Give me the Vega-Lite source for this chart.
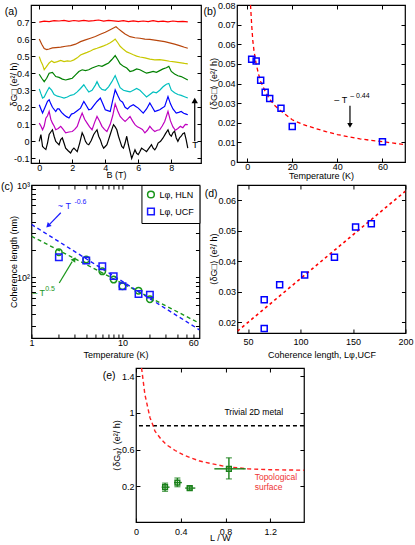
{
"$schema": "https://vega.github.io/schema/vega-lite/v6.json",
"padding": {"left": 0, "top": 0, "right": 0, "bottom": 0},
"spacing": -1,
"resolve": {"scale": {"color": "independent", "shape": "independent"}},
"vconcat": [
{"hconcat": [
{
"width": 170, "height": 158,
"layer": [
{"data": {"values": [
{"s":"k","B":0,"v":0},{"s":"k","B":0.1,"v":0.04},{"s":"k","B":0.2,"v":-0.03},{"s":"k","B":0.3,"v":-0.04},{"s":"k","B":0.4,"v":-0.048},{"s":"k","B":0.5,"v":-0.01},{"s":"k","B":0.6,"v":0.04},{"s":"k","B":0.7,"v":0.055},{"s":"k","B":0.8,"v":0.068},{"s":"k","B":0.9,"v":0.03},{"s":"k","B":1,"v":0},{"s":"k","B":1.1,"v":-0.01},{"s":"k","B":1.2,"v":-0.02},{"s":"k","B":1.3,"v":0.01},{"s":"k","B":1.4,"v":0.02},{"s":"k","B":1.5,"v":-0.01},{"s":"k","B":1.6,"v":-0.04},{"s":"k","B":1.75,"v":-0.055},{"s":"k","B":1.9,"v":-0.068},{"s":"k","B":2,"v":-0.05},{"s":"k","B":2.1,"v":-0.04},{"s":"k","B":2.2,"v":-0.05},{"s":"k","B":2.3,"v":-0.06},{"s":"k","B":2.45,"v":-0.01},{"s":"k","B":2.6,"v":0.05},{"s":"k","B":2.7,"v":0.03},{"s":"k","B":2.8,"v":0},{"s":"k","B":2.9,"v":-0.015},{"s":"k","B":3,"v":-0.02},{"s":"k","B":3.15,"v":0.005},{"s":"k","B":3.3,"v":0.04},{"s":"k","B":3.4,"v":0.055},{"s":"k","B":3.5,"v":0.068},{"s":"k","B":3.6,"v":0.03},{"s":"k","B":3.7,"v":0.01},{"s":"k","B":3.8,"v":-0.02},{"s":"k","B":3.9,"v":-0.04},{"s":"k","B":4,"v":-0.03},{"s":"k","B":4.1,"v":-0.02},{"s":"k","B":4.2,"v":0.01},{"s":"k","B":4.3,"v":0.04},{"s":"k","B":4.4,"v":0.07},{"s":"k","B":4.5,"v":0.098},{"s":"k","B":4.6,"v":0.085},{"s":"k","B":4.7,"v":0.068},{"s":"k","B":4.8,"v":0.03},{"s":"k","B":4.9,"v":0},{"s":"k","B":5,"v":-0.03},{"s":"k","B":5.1,"v":-0.04},{"s":"k","B":5.2,"v":-0.01},{"s":"k","B":5.3,"v":0.03},{"s":"k","B":5.4,"v":-0.02},{"s":"k","B":5.5,"v":-0.06},{"s":"k","B":5.6,"v":-0.1},{"s":"k","B":5.7,"v":-0.075},{"s":"k","B":5.8,"v":-0.05},{"s":"k","B":5.9,"v":-0.07},{"s":"k","B":6,"v":-0.078},{"s":"k","B":6.1,"v":-0.06},{"s":"k","B":6.2,"v":-0.04},{"s":"k","B":6.35,"v":-0.05},{"s":"k","B":6.5,"v":-0.06},{"s":"k","B":6.65,"v":-0.04},{"s":"k","B":6.8,"v":-0.02},{"s":"k","B":6.9,"v":-0.04},{"s":"k","B":7,"v":-0.05},{"s":"k","B":7.1,"v":-0.035},{"s":"k","B":7.2,"v":-0.01},{"s":"k","B":7.35,"v":0},{"s":"k","B":7.5,"v":0.02},{"s":"k","B":7.65,"v":0.045},{"s":"k","B":7.8,"v":0.068},{"s":"k","B":7.9,"v":0.04},{"s":"k","B":8,"v":0.03},{"s":"k","B":8.1,"v":0.05},{"s":"k","B":8.2,"v":0.06},{"s":"k","B":8.3,"v":0.02},{"s":"k","B":8.4,"v":0},{"s":"k","B":8.5,"v":0.02},{"s":"k","B":8.6,"v":0.03},{"s":"k","B":8.7,"v":0.045},{"s":"k","B":8.8,"v":0.05},{"s":"k","B":8.9,"v":0.01},{"s":"k","B":9,"v":-0.04},
{"s":"m","B":0,"v":0.107},{"s":"m","B":0.1,"v":0.09},{"s":"m","B":0.2,"v":0.068},{"s":"m","B":0.3,"v":0.09},{"s":"m","B":0.4,"v":0.136},{"s":"m","B":0.5,"v":0.15},{"s":"m","B":0.6,"v":0.176},{"s":"m","B":0.7,"v":0.13},{"s":"m","B":0.8,"v":0.107},{"s":"m","B":0.9,"v":0.09},{"s":"m","B":1,"v":0.068},{"s":"m","B":1.15,"v":0.075},{"s":"m","B":1.3,"v":0.088},{"s":"m","B":1.45,"v":0.07},{"s":"m","B":1.6,"v":0.05},{"s":"m","B":1.8,"v":0.055},{"s":"m","B":2,"v":0.058},{"s":"m","B":2.15,"v":0.07},{"s":"m","B":2.3,"v":0.088},{"s":"m","B":2.45,"v":0.13},{"s":"m","B":2.6,"v":0.166},{"s":"m","B":2.75,"v":0.13},{"s":"m","B":2.9,"v":0.107},{"s":"m","B":3.05,"v":0.085},{"s":"m","B":3.2,"v":0.068},{"s":"m","B":3.35,"v":0.11},{"s":"m","B":3.5,"v":0.146},{"s":"m","B":3.65,"v":0.12},{"s":"m","B":3.8,"v":0.088},{"s":"m","B":3.95,"v":0.07},{"s":"m","B":4.1,"v":0.058},{"s":"m","B":4.3,"v":0.1},{"s":"m","B":4.45,"v":0.15},{"s":"m","B":4.6,"v":0.22},{"s":"m","B":4.75,"v":0.18},{"s":"m","B":4.9,"v":0.146},{"s":"m","B":5.05,"v":0.13},{"s":"m","B":5.2,"v":0.117},{"s":"m","B":5.35,"v":0.13},{"s":"m","B":5.5,"v":0.146},{"s":"m","B":5.65,"v":0.12},{"s":"m","B":5.8,"v":0.098},{"s":"m","B":5.95,"v":0.085},{"s":"m","B":6.1,"v":0.078},{"s":"m","B":6.25,"v":0.07},{"s":"m","B":6.4,"v":0.05},{"s":"m","B":6.55,"v":0.065},{"s":"m","B":6.7,"v":0.088},{"s":"m","B":6.85,"v":0.07},{"s":"m","B":7,"v":0.058},{"s":"m","B":7.15,"v":0.065},{"s":"m","B":7.3,"v":0.068},{"s":"m","B":7.45,"v":0.09},{"s":"m","B":7.6,"v":0.117},{"s":"m","B":7.8,"v":0.176},{"s":"m","B":7.95,"v":0.12},{"s":"m","B":8.1,"v":0.085},{"s":"m","B":8.25,"v":0.065},{"s":"m","B":8.4,"v":0.075},{"s":"m","B":8.55,"v":0.088},{"s":"m","B":8.7,"v":0.08},{"s":"m","B":8.85,"v":0.1},{"s":"m","B":9,"v":0.098},
{"s":"b","B":0,"v":0.215},{"s":"b","B":0.1,"v":0.19},{"s":"b","B":0.2,"v":0.166},{"s":"b","B":0.35,"v":0.2},{"s":"b","B":0.5,"v":0.235},{"s":"b","B":0.6,"v":0.244},{"s":"b","B":0.7,"v":0.22},{"s":"b","B":0.8,"v":0.2},{"s":"b","B":1,"v":0.175},{"s":"b","B":1.1,"v":0.19},{"s":"b","B":1.2,"v":0.19},{"s":"b","B":1.35,"v":0.17},{"s":"b","B":1.5,"v":0.156},{"s":"b","B":1.65,"v":0.145},{"s":"b","B":1.8,"v":0.137},{"s":"b","B":1.95,"v":0.16},{"s":"b","B":2.1,"v":0.165},{"s":"b","B":2.3,"v":0.18},{"s":"b","B":2.5,"v":0.195},{"s":"b","B":2.6,"v":0.215},{"s":"b","B":2.7,"v":0.234},{"s":"b","B":2.85,"v":0.21},{"s":"b","B":3,"v":0.185},{"s":"b","B":3.15,"v":0.19},{"s":"b","B":3.3,"v":0.21},{"s":"b","B":3.5,"v":0.234},{"s":"b","B":3.7,"v":0.254},{"s":"b","B":3.85,"v":0.22},{"s":"b","B":4,"v":0.185},{"s":"b","B":4.15,"v":0.18},{"s":"b","B":4.3,"v":0.175},{"s":"b","B":4.45,"v":0.24},{"s":"b","B":4.6,"v":0.302},{"s":"b","B":4.75,"v":0.27},{"s":"b","B":4.9,"v":0.24},{"s":"b","B":5.05,"v":0.23},{"s":"b","B":5.2,"v":0.2},{"s":"b","B":5.35,"v":0.19},{"s":"b","B":5.5,"v":0.205},{"s":"b","B":5.7,"v":0.215},{"s":"b","B":5.85,"v":0.205},{"s":"b","B":6,"v":0.195},{"s":"b","B":6.15,"v":0.18},{"s":"b","B":6.3,"v":0.166},{"s":"b","B":6.5,"v":0.19},{"s":"b","B":6.7,"v":0.225},{"s":"b","B":6.85,"v":0.2},{"s":"b","B":7,"v":0.175},{"s":"b","B":7.15,"v":0.18},{"s":"b","B":7.3,"v":0.185},{"s":"b","B":7.45,"v":0.195},{"s":"b","B":7.6,"v":0.205},{"s":"b","B":7.8,"v":0.263},{"s":"b","B":7.95,"v":0.22},{"s":"b","B":8.1,"v":0.19},{"s":"b","B":8.3,"v":0.166},{"s":"b","B":8.45,"v":0.17},{"s":"b","B":8.6,"v":0.175},{"s":"b","B":8.75,"v":0.165},{"s":"b","B":8.9,"v":0.16},{"s":"b","B":9,"v":0.156},
{"s":"c","B":0,"v":0.308},{"s":"c","B":0.1,"v":0.28},{"s":"c","B":0.2,"v":0.254},{"s":"c","B":0.3,"v":0.26},{"s":"c","B":0.45,"v":0.29},{"s":"c","B":0.6,"v":0.316},{"s":"c","B":0.75,"v":0.3},{"s":"c","B":0.9,"v":0.275},{"s":"c","B":1.1,"v":0.265},{"s":"c","B":1.3,"v":0.26},{"s":"c","B":1.5,"v":0.254},{"s":"c","B":1.7,"v":0.26},{"s":"c","B":1.9,"v":0.27},{"s":"c","B":2.1,"v":0.275},{"s":"c","B":2.3,"v":0.29},{"s":"c","B":2.5,"v":0.31},{"s":"c","B":2.7,"v":0.332},{"s":"c","B":2.85,"v":0.31},{"s":"c","B":3,"v":0.29},{"s":"c","B":3.2,"v":0.3},{"s":"c","B":3.4,"v":0.33},{"s":"c","B":3.5,"v":0.35},{"s":"c","B":3.65,"v":0.32},{"s":"c","B":3.8,"v":0.305},{"s":"c","B":4,"v":0.3},{"s":"c","B":4.2,"v":0.32},{"s":"c","B":4.4,"v":0.35},{"s":"c","B":4.6,"v":0.386},{"s":"c","B":4.75,"v":0.35},{"s":"c","B":4.9,"v":0.315},{"s":"c","B":5.1,"v":0.3},{"s":"c","B":5.3,"v":0.295},{"s":"c","B":5.5,"v":0.29},{"s":"c","B":5.7,"v":0.3},{"s":"c","B":5.9,"v":0.31},{"s":"c","B":6.1,"v":0.3},{"s":"c","B":6.3,"v":0.28},{"s":"c","B":6.5,"v":0.26},{"s":"c","B":6.7,"v":0.275},{"s":"c","B":6.9,"v":0.29},{"s":"c","B":7.1,"v":0.285},{"s":"c","B":7.3,"v":0.3},{"s":"c","B":7.5,"v":0.32},{"s":"c","B":7.7,"v":0.335},{"s":"c","B":7.85,"v":0.34},{"s":"c","B":8,"v":0.3},{"s":"c","B":8.2,"v":0.285},{"s":"c","B":8.4,"v":0.275},{"s":"c","B":8.6,"v":0.27},{"s":"c","B":8.8,"v":0.262},{"s":"c","B":9,"v":0.254},
{"s":"g","B":0,"v":0.394},{"s":"g","B":0.15,"v":0.37},{"s":"g","B":0.3,"v":0.35},{"s":"g","B":0.45,"v":0.37},{"s":"g","B":0.6,"v":0.4},{"s":"g","B":0.8,"v":0.405},{"s":"g","B":1,"v":0.38},{"s":"g","B":1.2,"v":0.375},{"s":"g","B":1.4,"v":0.365},{"s":"g","B":1.6,"v":0.36},{"s":"g","B":1.8,"v":0.365},{"s":"g","B":2,"v":0.37},{"s":"g","B":2.2,"v":0.39},{"s":"g","B":2.4,"v":0.41},{"s":"g","B":2.6,"v":0.42},{"s":"g","B":2.8,"v":0.415},{"s":"g","B":3,"v":0.42},{"s":"g","B":3.2,"v":0.43},{"s":"g","B":3.4,"v":0.438},{"s":"g","B":3.6,"v":0.445},{"s":"g","B":3.8,"v":0.44},{"s":"g","B":4,"v":0.45},{"s":"g","B":4.2,"v":0.46},{"s":"g","B":4.4,"v":0.48},{"s":"g","B":4.6,"v":0.503},{"s":"g","B":4.75,"v":0.48},{"s":"g","B":4.9,"v":0.455},{"s":"g","B":5.1,"v":0.44},{"s":"g","B":5.3,"v":0.43},{"s":"g","B":5.5,"v":0.41},{"s":"g","B":5.7,"v":0.415},{"s":"g","B":5.9,"v":0.425},{"s":"g","B":6.1,"v":0.42},{"s":"g","B":6.3,"v":0.41},{"s":"g","B":6.5,"v":0.4},{"s":"g","B":6.7,"v":0.405},{"s":"g","B":6.9,"v":0.41},{"s":"g","B":7.1,"v":0.405},{"s":"g","B":7.3,"v":0.415},{"s":"g","B":7.5,"v":0.425},{"s":"g","B":7.7,"v":0.432},{"s":"g","B":7.85,"v":0.44},{"s":"g","B":8,"v":0.41},{"s":"g","B":8.2,"v":0.395},{"s":"g","B":8.4,"v":0.385},{"s":"g","B":8.6,"v":0.38},{"s":"g","B":8.8,"v":0.37},{"s":"g","B":9,"v":0.36},
{"s":"y","B":0,"v":0.497},{"s":"y","B":0.1,"v":0.47},{"s":"y","B":0.2,"v":0.45},{"s":"y","B":0.3,"v":0.42},{"s":"y","B":0.45,"v":0.44},{"s":"y","B":0.6,"v":0.46},{"s":"y","B":0.75,"v":0.472},{"s":"y","B":0.9,"v":0.462},{"s":"y","B":1.1,"v":0.468},{"s":"y","B":1.3,"v":0.475},{"s":"y","B":1.5,"v":0.468},{"s":"y","B":1.7,"v":0.472},{"s":"y","B":1.9,"v":0.47},{"s":"y","B":2.1,"v":0.478},{"s":"y","B":2.3,"v":0.49},{"s":"y","B":2.5,"v":0.507},{"s":"y","B":2.7,"v":0.515},{"s":"y","B":2.9,"v":0.522},{"s":"y","B":3.1,"v":0.53},{"s":"y","B":3.3,"v":0.54},{"s":"y","B":3.5,"v":0.546},{"s":"y","B":3.7,"v":0.553},{"s":"y","B":3.9,"v":0.56},{"s":"y","B":4.1,"v":0.568},{"s":"y","B":4.3,"v":0.578},{"s":"y","B":4.5,"v":0.592},{"s":"y","B":4.6,"v":0.6},{"s":"y","B":4.75,"v":0.58},{"s":"y","B":4.9,"v":0.558},{"s":"y","B":5.1,"v":0.54},{"s":"y","B":5.3,"v":0.525},{"s":"y","B":5.5,"v":0.517},{"s":"y","B":5.7,"v":0.508},{"s":"y","B":5.9,"v":0.5},{"s":"y","B":6.1,"v":0.495},{"s":"y","B":6.4,"v":0.49},{"s":"y","B":6.7,"v":0.482},{"s":"y","B":7,"v":0.478},{"s":"y","B":7.3,"v":0.48},{"s":"y","B":7.6,"v":0.475},{"s":"y","B":7.9,"v":0.47},{"s":"y","B":8.2,"v":0.466},{"s":"y","B":8.5,"v":0.462},{"s":"y","B":8.8,"v":0.457},{"s":"y","B":9,"v":0.455},
{"s":"o","B":0,"v":0.6},{"s":"o","B":0.15,"v":0.57},{"s":"o","B":0.3,"v":0.545},{"s":"o","B":0.45,"v":0.538},{"s":"o","B":0.6,"v":0.542},{"s":"o","B":0.8,"v":0.548},{"s":"o","B":1,"v":0.55},{"s":"o","B":1.3,"v":0.553},{"s":"o","B":1.6,"v":0.558},{"s":"o","B":1.9,"v":0.562},{"s":"o","B":2.2,"v":0.57},{"s":"o","B":2.5,"v":0.585},{"s":"o","B":2.8,"v":0.595},{"s":"o","B":3.1,"v":0.605},{"s":"o","B":3.4,"v":0.615},{"s":"o","B":3.7,"v":0.628},{"s":"o","B":4,"v":0.64},{"s":"o","B":4.3,"v":0.655},{"s":"o","B":4.5,"v":0.665},{"s":"o","B":4.65,"v":0.672},{"s":"o","B":4.8,"v":0.66},{"s":"o","B":5,"v":0.645},{"s":"o","B":5.2,"v":0.63},{"s":"o","B":5.5,"v":0.614},{"s":"o","B":5.8,"v":0.608},{"s":"o","B":6.1,"v":0.605},{"s":"o","B":6.4,"v":0.6},{"s":"o","B":6.7,"v":0.598},{"s":"o","B":7,"v":0.594},{"s":"o","B":7.3,"v":0.59},{"s":"o","B":7.6,"v":0.585},{"s":"o","B":7.9,"v":0.578},{"s":"o","B":8.2,"v":0.57},{"s":"o","B":8.5,"v":0.562},{"s":"o","B":8.8,"v":0.552},{"s":"o","B":9,"v":0.546},
{"s":"r","B":0,"v":0.7},{"s":"r","B":0.3,"v":0.705},{"s":"r","B":0.6,"v":0.703},{"s":"r","B":0.9,"v":0.708},{"s":"r","B":1.2,"v":0.706},{"s":"r","B":1.5,"v":0.71},{"s":"r","B":1.8,"v":0.704},{"s":"r","B":2.1,"v":0.709},{"s":"r","B":2.4,"v":0.706},{"s":"r","B":2.7,"v":0.71},{"s":"r","B":3,"v":0.705},{"s":"r","B":3.3,"v":0.708},{"s":"r","B":3.6,"v":0.712},{"s":"r","B":3.9,"v":0.706},{"s":"r","B":4.2,"v":0.71},{"s":"r","B":4.5,"v":0.707},{"s":"r","B":4.8,"v":0.704},{"s":"r","B":5.1,"v":0.708},{"s":"r","B":5.4,"v":0.703},{"s":"r","B":5.7,"v":0.707},{"s":"r","B":6,"v":0.702},{"s":"r","B":6.3,"v":0.706},{"s":"r","B":6.6,"v":0.703},{"s":"r","B":6.9,"v":0.708},{"s":"r","B":7.2,"v":0.702},{"s":"r","B":7.5,"v":0.705},{"s":"r","B":7.8,"v":0.701},{"s":"r","B":8.1,"v":0.706},{"s":"r","B":8.4,"v":0.702},{"s":"r","B":8.7,"v":0.704},{"s":"r","B":9,"v":0.701}
]},
"mark": {"type": "line", "strokeWidth": 1.2, "clip": true},
"encoding": {
"x": {"field": "B", "type": "quantitative", "scale": {"domain": [-0.5, 9.8], "nice": false, "zero": false}, "axis": {"values": [0,2,4,6,8], "title": "B (T)", "labelPadding": 0, "titlePadding": -2}},
"y": {"field": "v", "type": "quantitative", "scale": {"domain": [-0.127, 0.8], "nice": false, "zero": false}, "axis": {"values": [-0.1,0,0.1,0.2,0.3,0.4,0.5,0.6,0.7], "title": "δG□ (e²/ h)", "titlePadding": -5, "labelExpr": "datum.value == 0 ? '0' : datum.value < 0 ? '-' + format(-datum.value, '.1f') : format(datum.value, '.1f')"}},
"color": {"field": "s", "type": "nominal", "scale": {"domain": ["k","m","b","c","g","y","o","r"], "range": ["#000000","#bf00bf","#0000ff","#00bfbf","#008000","#c8c800","#b8460c","#ff0000"]}, "legend": null}
}},
{"data": {"values": [{"B": 9.42, "v": 0, "v2": 0.23}]},
"mark": {"type": "rule", "strokeWidth": 1.2, "color": "black"},
"encoding": {
"x": {"field": "B", "type": "quantitative", "axis": {"orient": "top", "labels": false, "title": null, "values": [0,2,4,6,8]}},
"y": {"field": "v", "type": "quantitative", "axis": {"orient": "right", "labels": false, "title": null, "values": [-0.1,0,0.1,0.2,0.3,0.4,0.5,0.6,0.7]}},
"y2": {"field": "v2"}
}},
{"data": {"values": [{}]},
"mark": {"type": "point", "shape": "triangle-up", "filled": true, "color": "black", "size": 40, "opacity": 1},
"encoding": {"x": {"datum": 9.42, "axis": null}, "y": {"datum": 0.24, "axis": null}}},
{"data": {"values": [{}]},
"mark": {"type": "text", "text": "T", "fontSize": 9.5, "color": "black"},
"encoding": {"x": {"datum": 9.45, "axis": null}, "y": {"datum": -0.023, "axis": null}}},
{"data": {"values": [{}]},
"mark": {"type": "text", "text": "(a)", "fontSize": 10.5, "color": "black"},
"encoding": {"x": {"datum": -1.7, "axis": null}, "y": {"datum": 0.76, "axis": null}}}
],
"resolve": {"axis": {"x": "independent", "y": "independent"}}
},
{
"width": 168, "height": 157,
"layer": [
{"data": {"values": [
{"T":1.5,"f":0.08},{"T":2,"f":0.07},{"T":2.5,"f":0.062},{"T":3,"f":0.057},{"T":4,"f":0.05},{"T":5,"f":0.045},{"T":6,"f":0.041},{"T":8,"f":0.036},{"T":10,"f":0.032},{"T":12,"f":0.029},{"T":15,"f":0.026},{"T":20,"f":0.0215},{"T":25,"f":0.019},{"T":30,"f":0.0172},{"T":35,"f":0.0155},{"T":40,"f":0.014},{"T":45,"f":0.0128},{"T":50,"f":0.0118},{"T":55,"f":0.011},{"T":60,"f":0.0104},{"T":65,"f":0.0096},{"T":70,"f":0.0088}
]},
"mark": {"type": "line", "color": "#ff0000", "strokeDash": [4, 3], "strokeWidth": 1.3, "clip": true},
"encoding": {
"x": {"field": "T", "type": "quantitative", "scale": {"domain": [-4.5, 70], "nice": false, "zero": false}, "axis": {"values": [0,20,40,60], "title": "Temperature (K)", "labelPadding": 0, "titlePadding": 0}},
"y": {"field": "f", "type": "quantitative", "scale": {"domain": [0, 0.08], "nice": false, "zero": false}, "axis": {"values": [0,0.01,0.02,0.03,0.04,0.05,0.06,0.07,0.08], "title": "⟨δG□⟩ (e²/ h)", "titlePadding": -1, "labelExpr": "datum.value == 0 ? '0' : format(datum.value, '.2f')"}}
}},
{"data": {"values": [
{"T":2,"g":0.0524},{"T":4,"g":0.0515},{"T":6,"g":0.0417},{"T":8,"g":0.0356},{"T":10,"g":0.0323},{"T":15,"g":0.0274},{"T":20,"g":0.0181},{"T":60,"g":0.0103}
]},
"mark": {"type": "point", "shape": "square", "filled": false, "color": "#0000ff", "size": 36, "strokeWidth": 1.5, "opacity": 1},
"encoding": {
"x": {"field": "T", "type": "quantitative", "axis": {"orient": "top", "labels": false, "title": null, "values": [0,20,40,60]}},
"y": {"field": "g", "type": "quantitative", "axis": {"orient": "right", "labels": false, "title": null, "values": [0,0.01,0.02,0.03,0.04,0.05,0.06,0.07,0.08]}}
}},
{"data": {"values": [{"T": 45.6, "a": 0.0287, "a2": 0.0195}]},
"mark": {"type": "rule", "color": "black", "strokeWidth": 1.2},
"encoding": {"x": {"field": "T", "type": "quantitative", "axis": null}, "y": {"field": "a", "type": "quantitative", "axis": null}, "y2": {"field": "a2"}}},
{"data": {"values": [{}]},
"mark": {"type": "point", "shape": "triangle-down", "filled": true, "color": "black", "size": 30, "opacity": 1},
"encoding": {"x": {"datum": 45.6, "axis": null}, "y": {"datum": 0.0187, "axis": null}}},
{"data": {"values": [{}]},
"mark": {"type": "text", "text": "– T", "fontSize": 9, "color": "black"},
"encoding": {"x": {"datum": 41.5, "axis": null}, "y": {"datum": 0.0317, "axis": null}}},
{"data": {"values": [{}]},
"mark": {"type": "text", "text": "– 0.44", "fontSize": 7, "color": "black"},
"encoding": {"x": {"datum": 50, "axis": null}, "y": {"datum": 0.0336, "axis": null}}},
{"data": {"values": [{}]},
"mark": {"type": "text", "text": "(b)", "fontSize": 10.5, "color": "black"},
"encoding": {"x": {"datum": -16.5, "axis": null}, "y": {"datum": 0.0764, "axis": null}}}
],
"resolve": {"axis": {"x": "independent", "y": "independent"}}
}
], "spacing": 36, "bounds": "flush", "resolve": {"scale": {"color": "independent", "shape": "independent"}}},
{"vconcat": [
{"hconcat": [
{
"width": 168, "height": 153,
"layer": [
{"data": {"values": [{"T":1,"L":279},{"T":70,"L":31.8}]},
"mark": {"type": "line", "color": "#1a961a", "strokeDash": [4, 3], "strokeWidth": 1.4, "clip": true},
"encoding": {
"x": {"field": "T", "type": "quantitative", "scale": {"type": "log", "domain": [1, 70], "nice": false}, "axis": {"orient": "top", "labels": false, "title": null, "values": [1,2,3,4,5,6,7,8,9,10,20,30,40,50,60]}},
"y": {"field": "L", "type": "quantitative", "scale": {"type": "log", "domain": [22, 1000], "nice": false}, "axis": {"orient": "right", "labels": false, "title": null, "values": [30,40,50,60,70,80,90,100,200,300,400,500,600,700,800,900,1000]}}
}},
{"data": {"values": [{"T":1,"L":374},{"T":70,"L":27}]},
"mark": {"type": "line", "color": "#1a1aff", "strokeDash": [4, 3], "strokeWidth": 1.4, "clip": true},
"encoding": {"x": {"field": "T", "type": "quantitative", "axis": null}, "y": {"field": "L", "type": "quantitative", "axis": null}}},
{"data": {"values": [
{"k":"HLN","T":2,"L":187},{"k":"HLN","T":4,"L":156},{"k":"HLN","T":6,"L":116},{"k":"HLN","T":8,"L":94.5},{"k":"HLN","T":10,"L":80},{"k":"HLN","T":15,"L":71.7},{"k":"HLN","T":20,"L":58},
{"k":"UCF","T":2,"L":165},{"k":"UCF","T":4,"L":152},{"k":"UCF","T":6,"L":132},{"k":"UCF","T":8,"L":103},{"k":"UCF","T":10,"L":80},{"k":"UCF","T":15,"L":65.8},{"k":"UCF","T":20,"L":64.9}
]},
"mark": {"type": "point", "filled": false, "size": 42, "strokeWidth": 1.5, "opacity": 1},
"encoding": {
"x": {"field": "T", "type": "quantitative", "axis": {"values": [1,2,3,4,5,6,7,8,9,10,20,30,40,50,60], "title": "Temperature (K)", "labelPadding": 0, "titlePadding": 3, "labelExpr": "datum.value == 1 || datum.value == 10 || datum.value == 60 ? format(datum.value, 'd') : ''"}},
"y": {"field": "L", "type": "quantitative", "axis": {"values": [30,40,50,60,70,80,90,100,200,300,400,500,600,700,800,900,1000], "title": "Coherence length (nm)", "titlePadding": -2, "labelExpr": "datum.value == 100 ? '10²' : datum.value == 1000 ? '10³' : ''"}},
"color": {"field": "k", "type": "nominal", "scale": {"domain": ["HLN","UCF"], "range": ["#1a961a","#1a1aff"]},
"legend": {"orient": "top-right", "offset": 0, "title": null, "fillColor": "white", "strokeColor": "black", "padding": 5, "labelFontSize": 9, "symbolSize": 45, "symbolStrokeWidth": 1.5, "rowPadding": 4, "labelExpr": "'Lφ, ' + datum.label"}},
"shape": {"field": "k", "type": "nominal", "scale": {"domain": ["HLN","UCF"], "range": ["circle","square"]},
"legend": {"orient": "top-right", "offset": 0, "title": null, "fillColor": "white", "strokeColor": "black", "padding": 5, "labelFontSize": 9, "symbolSize": 45, "symbolStrokeWidth": 1.5, "rowPadding": 4, "labelExpr": "'Lφ, ' + datum.label"}}
}},
{"data": {"values": [{"T": 2.1, "L": 500, "T2": 1.58, "L2": 375}]},
"mark": {"type": "rule", "strokeWidth": 1.2, "color": "#1a1aff"},
"encoding": {"x": {"field": "T", "type": "quantitative", "axis": null}, "y": {"field": "L", "type": "quantitative", "axis": null}, "x2": {"field": "T2"}, "y2": {"field": "L2"}}},
{"data": {"values": [{"T": 2.02, "L": 86.7, "T2": 2.8, "L2": 148}]},
"mark": {"type": "rule", "strokeWidth": 1.2, "color": "#1a961a"},
"encoding": {"x": {"field": "T", "type": "quantitative", "axis": null}, "y": {"field": "L", "type": "quantitative", "axis": null}, "x2": {"field": "T2"}, "y2": {"field": "L2"}}},
{"data": {"values": [{}]},
"mark": {"type": "point", "shape": "triangle-up", "filled": true, "color": "#1a1aff", "size": 30, "angle": 225, "opacity": 1},
"encoding": {"x": {"datum": 1.52, "axis": null}, "y": {"datum": 362, "axis": null}}},
{"data": {"values": [{}]},
"mark": {"type": "point", "shape": "triangle-up", "filled": true, "color": "#1a961a", "size": 30, "angle": 33, "opacity": 1},
"encoding": {"x": {"datum": 2.95, "axis": null}, "y": {"datum": 157, "axis": null}}},
{"data": {"values": [{}]},
"mark": {"type": "text", "text": "~ T", "fontSize": 9, "color": "#1a1aff"},
"encoding": {"x": {"datum": 2.3, "axis": null}, "y": {"datum": 592, "axis": null}}},
{"data": {"values": [{}]},
"mark": {"type": "text", "text": "-0.6", "fontSize": 7, "color": "#1a1aff"},
"encoding": {"x": {"datum": 3.45, "axis": null}, "y": {"datum": 655, "axis": null}}},
{"data": {"values": [{}]},
"mark": {"type": "text", "text": "– T", "fontSize": 9, "color": "#1a961a"},
"encoding": {"x": {"datum": 1.2, "axis": null}, "y": {"datum": 67.4, "axis": null}}},
{"data": {"values": [{}]},
"mark": {"type": "text", "text": "0.5", "fontSize": 7, "color": "#1a961a"},
"encoding": {"x": {"datum": 1.6, "axis": null}, "y": {"datum": 75.4, "axis": null}}},
{"data": {"values": [{}]},
"mark": {"type": "text", "text": "(c)", "fontSize": 10.5, "color": "black"},
"encoding": {"x": {"datum": 0.54, "axis": null}, "y": {"datum": 959, "axis": null}}}
],
"resolve": {"axis": {"x": "independent", "y": "independent"}}
},
{
"width": 168, "height": 148,
"layer": [
{"data": {"values": [{"L": 40, "g": 0.0171}, {"L": 200, "g": 0.063}]},
"mark": {"type": "line", "color": "#ff0000", "strokeDash": [3, 3], "strokeWidth": 1.6, "clip": true},
"encoding": {
"x": {"field": "L", "type": "quantitative", "scale": {"domain": [40, 200], "nice": false, "zero": false}, "axis": {"orient": "top", "labels": false, "title": null, "values": [50,100,150,200]}},
"y": {"field": "g", "type": "quantitative", "scale": {"domain": [0.0165, 0.065], "nice": false, "zero": false}, "axis": {"orient": "right", "labels": false, "title": null, "values": [0.02,0.03,0.04,0.05,0.06]}}
}},
{"data": {"values": [
{"L":65.5,"g":0.0274},{"L":65.5,"g":0.018},{"L":80.2,"g":0.0323},{"L":104,"g":0.0355},{"L":132.4,"g":0.0413},{"L":152.5,"g":0.0512},{"L":167.5,"g":0.0523}
]},
"mark": {"type": "point", "shape": "square", "filled": false, "color": "#0000ff", "size": 36, "strokeWidth": 1.5, "opacity": 1},
"encoding": {
"x": {"field": "L", "type": "quantitative", "axis": {"values": [50,100,150,200], "title": "Coherence length, Lφ,UCF", "labelPadding": 4, "titlePadding": 4}},
"y": {"field": "g", "type": "quantitative", "axis": {"values": [0.02,0.03,0.04,0.05,0.06], "title": "⟨δG□⟩ (e²/ h)", "titlePadding": -1, "labelExpr": "format(datum.value, '.2f')"}}
}},
{"data": {"values": [{}]},
"mark": {"type": "text", "text": "(d)", "fontSize": 10.5, "color": "black"},
"encoding": {"x": {"datum": 14.9, "axis": null}, "y": {"datum": 0.0622, "axis": null}}}
],
"resolve": {"axis": {"x": "independent", "y": "independent"}}
}
], "spacing": 38, "bounds": "flush", "resolve": {"scale": {"color": "independent", "shape": "independent"}}},
{
"width": 168, "height": 154,
"layer": [
{"data": {"values": [{}]},
"mark": {"type": "rule", "color": "black", "strokeDash": [4, 3], "strokeWidth": 1.4},
"encoding": {"y": {"datum": 0.86, "type": "quantitative", "axis": null}}},
{"data": {"values": [
{"lw":0.05,"c":1.49},{"lw":0.08,"c":1.2},{"lw":0.125,"c":0.95},{"lw":0.15,"c":0.87},{"lw":0.17,"c":0.8},{"lw":0.22,"c":0.72},{"lw":0.27,"c":0.655},{"lw":0.35,"c":0.59},{"lw":0.42,"c":0.545},{"lw":0.5,"c":0.505},{"lw":0.57,"c":0.475},{"lw":0.66,"c":0.45},{"lw":0.8,"c":0.415},{"lw":1,"c":0.39},{"lw":1.2,"c":0.38},{"lw":1.5,"c":0.375}
]},
"mark": {"type": "line", "color": "#ff2020", "strokeDash": [4, 3], "strokeWidth": 1.4, "clip": true},
"encoding": {
"x": {"field": "lw", "type": "quantitative", "scale": {"domain": [0, 1.5], "nice": false, "zero": false}, "axis": {"orient": "top", "labels": false, "title": null, "values": [0,0.4,0.8,1.2]}},
"y": {"field": "c", "type": "quantitative", "scale": {"domain": [-0.19, 1.49], "nice": false, "zero": false}, "axis": {"orient": "right", "labels": false, "title": " ", "titleFontSize": 4, "titlePadding": 0, "values": [0.2,0.6,1,1.4]}}
}},
{"data": {"values": [
{"lw":0.26,"g":0.19,"lw1":0.23,"lw2":0.3,"g1":0.145,"g2":0.235},
{"lw":0.37,"g":0.24,"lw1":0.34,"lw2":0.41,"g1":0.195,"g2":0.29},
{"lw":0.48,"g":0.18,"lw1":0.44,"lw2":0.53,"g1":0.16,"g2":0.2},
{"lw":0.83,"g":0.39,"lw1":0.7,"lw2":0.98,"g1":0.28,"g2":0.51}
]},
"layer": [
{"mark": {"type": "rule", "color": "#1a801a", "strokeWidth": 1.4},
"encoding": {"x": {"field": "lw", "type": "quantitative", "axis": null}, "y": {"field": "g1", "type": "quantitative", "axis": null}, "y2": {"field": "g2"}}},
{"mark": {"type": "rule", "color": "#1a801a", "strokeWidth": 1.4},
"encoding": {"x": {"field": "lw1", "type": "quantitative", "axis": null}, "x2": {"field": "lw2"}, "y": {"field": "g", "type": "quantitative", "axis": null}}},
{"mark": {"type": "tick", "orient": "horizontal", "color": "#1a801a", "size": 6, "thickness": 1.3},
"encoding": {"x": {"field": "lw", "type": "quantitative", "axis": null}, "y": {"field": "g1", "type": "quantitative", "axis": null}}},
{"mark": {"type": "tick", "orient": "horizontal", "color": "#1a801a", "size": 6, "thickness": 1.3},
"encoding": {"x": {"field": "lw", "type": "quantitative", "axis": null}, "y": {"field": "g2", "type": "quantitative", "axis": null}}},
{"mark": {"type": "point", "shape": "square", "filled": false, "color": "#1a801a", "size": 22, "strokeWidth": 1.5, "opacity": 1},
"encoding": {
"x": {"field": "lw", "type": "quantitative", "axis": {"values": [0,0.4,0.8,1.2], "title": "L / W", "labelPadding": 5, "titlePadding": -2.5, "labelExpr": "datum.value == 0 ? '0' : format(datum.value, '.1f')"}},
"y": {"field": "g", "type": "quantitative", "axis": {"values": [0.2,0.6,1,1.4], "title": "⟨δGᵩ⟩ (e²/ h)", "titlePadding": 0, "labelExpr": "datum.value == 1 ? '1' : format(datum.value, '.1f')"}}
}}
],
"resolve": {"axis": {"x": "independent", "y": "independent"}}
},
{"data": {"values": [{}]},
"mark": {"type": "text", "text": "Trivial 2D metal", "fontSize": 8.5, "align": "left", "color": "black"},
"encoding": {"x": {"datum": 0.79, "axis": null}, "y": {"datum": 1.01, "axis": null}}},
{"data": {"values": [{}]},
"mark": {"type": "text", "text": "Topological", "fontSize": 8.5, "align": "left", "color": "#ee3333"},
"encoding": {"x": {"datum": 1.06, "axis": null}, "y": {"datum": 0.3, "axis": null}}},
{"data": {"values": [{}]},
"mark": {"type": "text", "text": "surface", "fontSize": 8.5, "align": "left", "color": "#ee3333"},
"encoding": {"x": {"datum": 1.06, "axis": null}, "y": {"datum": 0.19, "axis": null}}},
{"data": {"values": [{}]},
"mark": {"type": "text", "text": "(e)", "fontSize": 10.5, "color": "black"},
"encoding": {"x": {"datum": -0.24, "axis": null}, "y": {"datum": 1.4, "axis": null}}}
],
"resolve": {"axis": {"x": "independent", "y": "independent"}}
}
], "spacing": 6, "center": true, "resolve": {"scale": {"color": "independent", "shape": "independent"}}}
],
"config": {
"font": "Liberation Sans",
"view": {"stroke": "black", "strokeWidth": 1.2},
"axis": {"domain": false, "grid": false, "ticks": true, "tickSize": 4, "offset": -4, "tickColor": "black", "tickWidth": 1, "labelPadding": 2, "labelFontSize": 9, "labelColor": "black", "labelFont": "Liberation Sans", "labelFlush": false, "labelOverlap": false, "titleFontSize": 9, "titleFontWeight": "normal", "titleColor": "black", "titleFont": "Liberation Sans", "titlePadding": 1},
"text": {"font": "Liberation Sans", "color": "black"},
"legend": {"labelFont": "Liberation Sans", "labelColor": "black"}
}
}
